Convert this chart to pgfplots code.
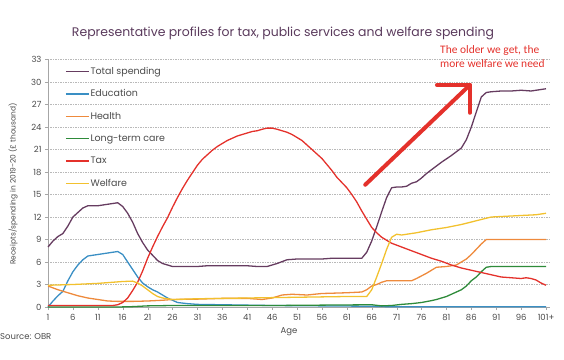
\documentclass[border=0pt]{standalone}
\usepackage{fontspec}
\setmainfont{Poppins}
\newfontfamily\annfont{Carlito}
\usepackage{pgfplots}
\pgfplotsset{compat=1.18}
\definecolor{cTot}{HTML}{663C60}
\definecolor{cEdu}{HTML}{3A8FC4}
\definecolor{cHea}{HTML}{EE8A3C}
\definecolor{cLtc}{HTML}{2E8B3A}
\definecolor{cTax}{HTML}{E4312B}
\definecolor{cWel}{HTML}{F2C12E}
\definecolor{cTitle}{HTML}{5A3A5C}
\definecolor{cTxt}{HTML}{4A4A4A}
\begin{document}
\begin{tikzpicture}[x=1bp,y=1bp]
\useasboundingbox (-48,-52) rectangle (516,307);
\begin{axis}[
  at={(0,0)}, anchor=south west,
  scale only axis, width=502bp, height=247.5bp,
  xmin=1, xmax=101.8, ymin=0, ymax=33,
  axis x line=bottom, axis y line=left,
  axis line style={draw=gray!70, -},
  xtick={1,6,...,96,101},
  xticklabels={1,6,11,16,21,26,31,36,41,46,51,56,61,66,71,76,81,86,91,96,101+},
  ytick={0,3,...,33},
  tick align=outside, major tick length=3bp,
  tick style={draw=gray!70},
  ymajorgrids,
  major grid style={draw=gray!55, dash pattern=on 1.5pt off 1pt},
  /pgf/number format/assume math mode=true,
  ticklabel style={font=\fontsize{8.5}{10}\selectfont, text=cTxt},
  xticklabel style={yshift=-1bp},
  every axis plot/.append style={line width=1.3pt, line join=round},
  legend cell align=left,
  legend image code/.code={\draw[#1, line width=1.3pt] (0bp,0bp) -- (23bp,0bp);},
  legend style={at={(rel axis cs:0.034,0.975)}, anchor=north west,
    draw=none, fill=none, inner sep=0pt, row sep=12bp,
    font=\fontsize{9.5}{11}\selectfont, text=cTxt,
    nodes={inner sep=1bp}},
  clip=false,
]
\addplot[cTot] coordinates {(1,8.0)(2,8.8)(3,9.4)(4,9.8)(5,10.8)(6,12.0)(7,12.6)(8,13.2)(9,13.5)(10,13.5)(11,13.5)(12,13.6)(13,13.7)(14,13.8)(15,13.9)(16,13.4)(17,12.5)(18,11.3)(19,9.8)(20,8.6)(21,7.6)(22,6.9)(23,6.2)(24,5.8)(25,5.6)(26,5.4)(28,5.4)(31,5.4)(33,5.5)(36,5.5)(41,5.5)(43,5.4)(45,5.4)(47,5.8)(49,6.3)(51,6.4)(56,6.4)(58,6.5)(64,6.5)(65,7.3)(66,8.8)(67,10.7)(68,12.7)(69,14.6)(70,15.9)(71,16.0)(72,16.0)(73,16.1)(74,16.5)(75,16.7)(76,17.2)(77,17.8)(78,18.3)(80,19.3)(82,20.2)(84,21.2)(85,22.3)(86,24.0)(87,26.0)(88,28.0)(89,28.6)(90,28.7)(92,28.8)(94,28.8)(96,28.9)(98,28.8)(100,29.0)(101,29.1)};
\addlegendentry{Total spending}
\addplot[cEdu] coordinates {(1,0)(2,0.8)(3,1.5)(4,2.1)(5,3.5)(6,4.7)(7,5.6)(8,6.3)(9,6.8)(10,6.9)(11,7.0)(12,7.1)(13,7.2)(14,7.3)(15,7.4)(16,7.0)(17,6.0)(18,5.0)(19,4.0)(20,3.2)(21,2.7)(22,2.3)(23,2.0)(24,1.6)(25,1.2)(26,0.9)(27,0.6)(29,0.45)(31,0.35)(36,0.3)(41,0.25)(46,0.2)(56,0.15)(66,0.1)(70,0.03)(101,0.03)};
\addlegendentry{Education}
\addplot[cHea] coordinates {(1,2.8)(3,2.3)(5,1.9)(7,1.5)(9,1.2)(11,1.0)(13,0.8)(15,0.75)(18,0.75)(21,0.8)(24,0.9)(26,1.0)(31,1.05)(36,1.15)(41,1.15)(44,1.0)(46,1.2)(48,1.6)(50,1.7)(53,1.6)(56,1.8)(61,1.9)(64,2.0)(65,2.3)(66,2.8)(67,3.0)(68,3.3)(69,3.5)(74,3.5)(75,3.8)(77,4.5)(79,5.3)(81,5.4)(83,5.6)(84,6.0)(85,6.4)(86,7.0)(87,7.7)(88,8.4)(89,9.0)(101,9.0)};
\addlegendentry{Health}
\addplot[cLtc] coordinates {(1,0.0)(15,0.0)(18,0.05)(21,0.15)(26,0.2)(36,0.2)(46,0.2)(56,0.25)(66,0.3)(68,0.15)(70,0.2)(72,0.35)(74,0.45)(76,0.6)(78,0.85)(79,1.0)(80,1.2)(81,1.4)(82,1.7)(83,2.0)(84,2.3)(85,2.8)(86,3.5)(87,4.0)(88,4.7)(89,5.3)(90,5.4)(101,5.4)};
\addlegendentry{Long-term care}
\addplot[cTax] coordinates {(1,0.2)(14,0.2)(15,0.3)(16,0.6)(17,1.2)(18,2.2)(19,3.3)(20,4.8)(21,6.5)(22,8.0)(23,9.4)(24,10.7)(25,11.9)(26,13.3)(27,14.6)(28,15.8)(29,16.9)(30,17.9)(31,18.9)(32,19.7)(33,20.3)(34,20.9)(35,21.4)(36,21.8)(37,22.2)(38,22.5)(39,22.8)(40,23.0)(41,23.2)(42,23.4)(43,23.5)(44,23.7)(45,23.85)(46,23.85)(47,23.7)(48,23.5)(49,23.3)(50,23.0)(51,22.6)(52,22.2)(53,21.6)(54,21.0)(55,20.4)(56,19.8)(57,19.0)(58,18.2)(59,17.3)(60,16.6)(61,15.9)(62,15.0)(63,14.0)(64,12.8)(65,11.7)(66,10.6)(67,9.9)(68,9.3)(69,8.9)(70,8.5)(72,8.0)(74,7.5)(76,7.0)(78,6.5)(80,6.1)(82,5.6)(84,5.2)(86,4.9)(88,4.6)(90,4.3)(92,4.0)(94,3.9)(96,3.8)(97,3.9)(98,3.8)(99,3.6)(100,3.2)(101,2.9)};
\addlegendentry{Tax}
\addplot[cWel] coordinates {(1,2.9)(6,3.0)(11,3.15)(14,3.3)(16,3.4)(18,3.45)(19,3.2)(20,2.8)(21,2.3)(22,1.8)(23,1.4)(24,1.2)(26,1.0)(31,1.1)(36,1.15)(41,1.2)(46,1.25)(51,1.3)(56,1.35)(61,1.4)(65,1.4)(66,2.3)(67,4.0)(68,5.8)(69,7.7)(70,9.3)(71,9.7)(72,9.6)(73,9.7)(75,9.9)(78,10.3)(81,10.6)(84,11.0)(87,11.5)(90,12.0)(93,12.1)(96,12.2)(99,12.3)(101,12.5)};
\addlegendentry{Welfare}
\draw[cTax, line width=4bp, line cap=round] (axis cs:64.7,16.3) -- (axis cs:85.7,29.6);
\draw[cTax, line width=4bp, line cap=round, line join=round] (axis cs:79.1,29.6) -- (axis cs:85.7,29.6) -- (axis cs:85.7,25.9);
\end{axis}
\node[text=cTitle, font=\fontsize{12.5}{15}\selectfont] at (235,274) {Representative profiles for tax, public services and welfare spending};
\node[text=cTxt, rotate=90, font=\fontsize{7.5}{9}\selectfont] at (-35,123) {Receipts/spending in 2019-20 (£ thousand)};
\node[text=cTxt, font=\fontsize{8.5}{10}\selectfont] at (241,-25) {Age};
\node[text=cTxt, anchor=west, inner sep=0pt, font=\fontsize{8.5}{10}\selectfont] at (-48,-30) {Source: OBR};
\node[text=cTax, anchor=north west, align=left, inner sep=0pt, font=\annfont\fontsize{11.5}{14}\selectfont] at (392,262) {The older we get, the\\more welfare we need};
\end{tikzpicture}
\end{document}
